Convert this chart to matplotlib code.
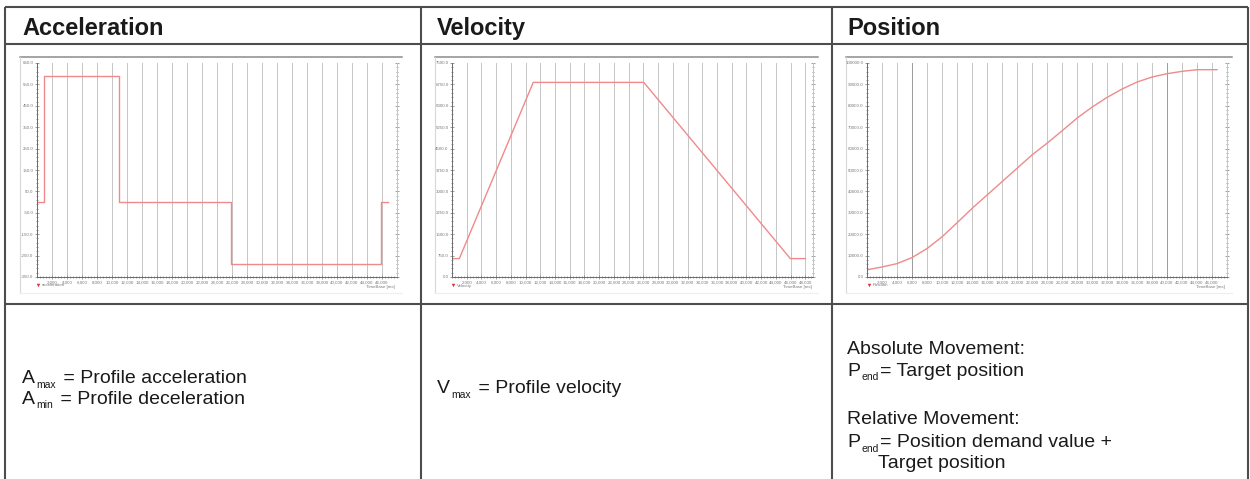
import matplotlib
matplotlib.use('Agg')
import matplotlib.pyplot as plt
from matplotlib.ticker import FixedLocator, FuncFormatter, AutoMinorLocator

plt.rcParams['font.family'] = ['Liberation Sans', 'DejaVu Sans']

# ---------------- data ----------------
headers = ['Acceleration', 'Velocity', 'Position']
legend_labels = ['acceleration', 'Velocity', 'Position']
x_axis_label = 'TimeBase [ms]'

accel_time = [0, 889, 10978, 25911, 45911, 46800]
accel_value = [0, 587.5, 0, -287.5, 0, 0]

vel_time = [0, 995, 11040, 26060, 45970, 48010]
vel_value = [645, 645, 6820, 6820, 645, 645]

pos_time = [133, 2000, 4000, 6000, 8000, 10000, 12000, 14000, 16000, 18000,
            20000, 22000, 24000, 26000, 28000, 30000, 32000, 34000, 36000,
            38000, 40000, 42000, 44000, 46667]
pos_value = [3437, 4687, 6250, 9062, 13280, 18750, 25310, 32030, 38280, 44530,
             50780, 57030, 62500, 68280, 74220, 79370, 83900, 87810, 91090,
             93440, 95000, 96090, 96875, 96875]

accel_yticks = [-350, -250, -150, -50, 50, 150, 250, 350, 450, 550, 650]
vel_yticks = [0, 750, 1500, 2250, 3000, 3750, 4500, 5250, 6000, 6750, 7500]
pos_yticks = [0, 10000, 20000, 30000, 40000, 50000, 60000, 70000, 80000, 90000, 100000]

grid_times_a = list(range(2000, 46001, 2000))
grid_times_v = list(range(2000, 48001, 2000))

# body text: (symbol, subscript, rest) or plain strings
col1_lines = [('A', 'max', ' = Profile acceleration'),
              ('A', 'min', ' = Profile deceleration')]
col2_lines = [('V', 'max', ' = Profile velocity')]
col3_lines = ['Absolute Movement:',
              ('P', 'end', '= Target position'),
              'Relative Movement:',
              ('P', 'end', '= Position demand value +'),
              'Target position']

# ---------------- figure ----------------
W, H = 1250, 479
fig = plt.figure(figsize=(W / 100, H / 100), dpi=100)
bg = fig.add_axes([0, 0, 1, 1])
bg.set_xlim(0, W)
bg.set_ylim(H, 0)
bg.axis('off')
renderer = fig.canvas.get_renderer()

line_c = '#4d4d4d'
lw = 1.5
# table lines
for y in [6.5, 43.5, 304]:
    bg.plot([5, 1248], [y, y], color=line_c, lw=lw, solid_capstyle='butt')
for x in [5, 421, 832, 1248]:
    bg.plot([x, x], [6.5, H], color=line_c, lw=lw, solid_capstyle='butt')

# headers
for x, h in zip([22, 437, 847], headers):
    bg.text(x, 35, h, fontsize=17, fontweight='bold', color='#1a1a1a',
            va='baseline', ha='left')


def px_axes(x0, x1, y0, y1):
    return fig.add_axes([x0 / W, (H - y1) / H, (x1 - x0) / W, (y1 - y0) / H])


red = '#f08a8a'


def style(ax, grid_times, yticks, ylim, xlim, dark=()):
    ax.set_xlim(*xlim)
    ax.set_ylim(*ylim)
    for t in grid_times:
        c = '#9a9a9a' if t in dark else '#c6c6c6'
        ax.axvline(t, color=c, lw=0.7, zorder=0)
    ax.xaxis.set_major_locator(FixedLocator(grid_times))
    ax.xaxis.set_major_formatter(FuncFormatter(lambda v, p: f'{v:,.0f}'))
    ax.xaxis.set_minor_locator(AutoMinorLocator(5))
    ax.yaxis.set_major_locator(FixedLocator(yticks))
    ax.yaxis.set_major_formatter(FuncFormatter(lambda v, p: f'{v:.1f}'))
    ax.yaxis.set_minor_locator(AutoMinorLocator(5))
    ax.tick_params(which='both', direction='inout', colors='#777777',
                   labelsize=3.2, labelcolor='#7a7a7a', width=0.5,
                   right=True, labelright=False, pad=1)
    ax.tick_params(which='major', length=3)
    ax.tick_params(which='minor', length=1.6)
    ax.spines['top'].set_visible(False)
    ax.spines['right'].set_color('#c4c4c4')
    ax.spines['left'].set_color('#6a6a6a')
    ax.spines['bottom'].set_color('#6a6a6a')
    for s in ['left', 'bottom', 'right']:
        ax.spines[s].set_linewidth(0.7)


boxes = [(20, 402), (435, 818), (846, 1232)]
for (bx0, bx1) in boxes:
    bg.plot([bx0, bx1], [57, 57], color='#8c8c8c', lw=1.1)
    bg.plot([bx0, bx0], [57, 293], color='#d8d8d8', lw=0.8)
    bg.plot([bx0, bx1], [293, 293], color='#eeeeee', lw=0.8)

# chart 1 acceleration
ax1 = px_axes(37, 397, 63, 277)
style(ax1, grid_times_a, accel_yticks, (-350, 650), (0, 48000))
ax1.plot(accel_time, accel_value, drawstyle='steps-post', color=red, lw=1.0)

# chart 2 velocity
ax2 = px_axes(452, 813, 63, 277)
style(ax2, grid_times_v, vel_yticks, (0, 7500), (0, 49050))
ax2.plot(vel_time, vel_value, color=red, lw=1.0)

# chart 3 position
ax3 = px_axes(867, 1227, 63, 277)
style(ax3, grid_times_a, pos_yticks, (0, 100000), (0, 48000), dark=(6000, 40000))
ax3.plot(pos_time, pos_value, color=red, lw=1.0)

# mini legends / axis labels
for (mx, rx), lab in zip([(38, 395), (453, 812), (869, 1225)], legend_labels):
    bg.plot([mx], [285], marker='v', ms=2.5, color='#e03030', mew=0)
    bg.text(mx + 4, 285.5, lab, fontsize=3.2, color='#7a7a7a', va='center', ha='left')
    bg.text(rx, 287, x_axis_label, fontsize=3.2, color='#7a7a7a', va='center', ha='right')

# body text
fs = 14
sub_fs = 7.5
tc = '#1a1a1a'


def width_of(t):
    return t.get_window_extent(renderer=renderer).width


def body_line(x, y, item):
    if isinstance(item, str):
        bg.text(x, y, item, fontsize=fs, color=tc, va='baseline', ha='left')
        return
    sym, sub, rest = item
    t1 = bg.text(x, y, sym, fontsize=fs, color=tc, va='baseline', ha='left')
    x2 = x + width_of(t1) + 1.5
    t2 = bg.text(x2, y + 4.5, sub, fontsize=sub_fs, color=tc, va='baseline', ha='left')
    x3 = x2 + width_of(t2) + (1.5 if rest.startswith(' ') else 1.0)
    bg.text(x3, y, rest, fontsize=fs, color=tc, va='baseline', ha='left')


body_line(22, 383, col1_lines[0])
body_line(22, 404, col1_lines[1])
body_line(437, 393, col2_lines[0])
body_line(847, 354, col3_lines[0])
body_line(847, 376, col3_lines[1])
body_line(847, 424, col3_lines[2])
body_line(847, 447, col3_lines[3])
body_line(878, 468, col3_lines[4])

fig.savefig('out.png', dpi=100)
